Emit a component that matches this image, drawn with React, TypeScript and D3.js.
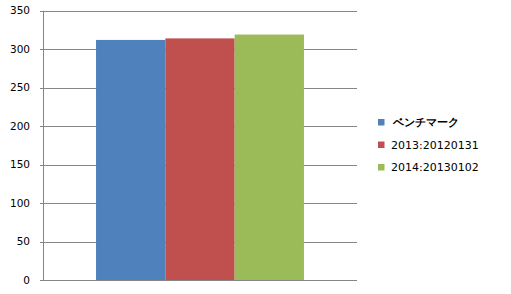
import React from "react";
import * as d3 from "d3";

const categories = [""];
const seriesNames = ["ベンチマーク", "2013:20120131", "2014:20130102"];
const seriesValues = [312, 314, 319];
const seriesColors = ["#4F81BD", "#C0504D", "#9BBB59"];
const yTicks = [0, 50, 100, 150, 200, 250, 300, 350];

const W = 511;
const H = 294;
const left = 43;
const right = 357;
const top = 10.7;
const bottom = 280;

export default function App() {
  const y = d3.scaleLinear().domain([0, 350]).range([bottom, top]);
  const x0 = d3.scaleBand().domain(categories).range([left, right]).paddingInner(0).paddingOuter(0.255);
  const x1 = d3.scaleBand().domain(seriesNames).range([0, x0.bandwidth()]).padding(0);
  const font = "'DejaVu Sans', Verdana, sans-serif";
  return (
    <svg width={W} height={H} style={{ position: "absolute", left: 0, top: 0, background: "#fff" }}>
      {yTicks.map((t) => (
        <g key={t}>
          <line x1={left - 3} x2={right} y1={Math.round(y(t)) + 0.5} y2={Math.round(y(t)) + 0.5} stroke="#868686" strokeWidth={1} />
          <text x={30} y={y(t)} dy="0.35em" textAnchor="end" fontFamily={font} fontSize={10.5} fill="#000">
            {t}
          </text>
        </g>
      ))}
      <line x1={left + 0.5} x2={left + 0.5} y1={y(350)} y2={bottom} stroke="#868686" strokeWidth={1} />
      {categories.map((c) => (
        <g key={c}>
          {seriesNames.map((s, i) => (
            <rect
              key={s}
              x={(x0(c) as number) + (x1(s) as number)}
              y={y(seriesValues[i])}
              width={x1.bandwidth()}
              height={bottom - y(seriesValues[i])}
              fill={seriesColors[i]}
            />
          ))}
        </g>
      ))}
      {seriesNames.map((s, i) => (
        <g key={s} transform={`translate(378, ${122 + i * 22.5})`}>
          <rect x={0} y={-3} width={6.5} height={6.5} fill={seriesColors[i]} />
          <text x={i === 0 ? 15 : 13} y={0} dy="0.4em" fontFamily={font} fontSize={11} fill="#000" fontWeight={i === 0 ? "bold" : "normal"}>
            {s}
          </text>
        </g>
      ))}
    </svg>
  );
}
